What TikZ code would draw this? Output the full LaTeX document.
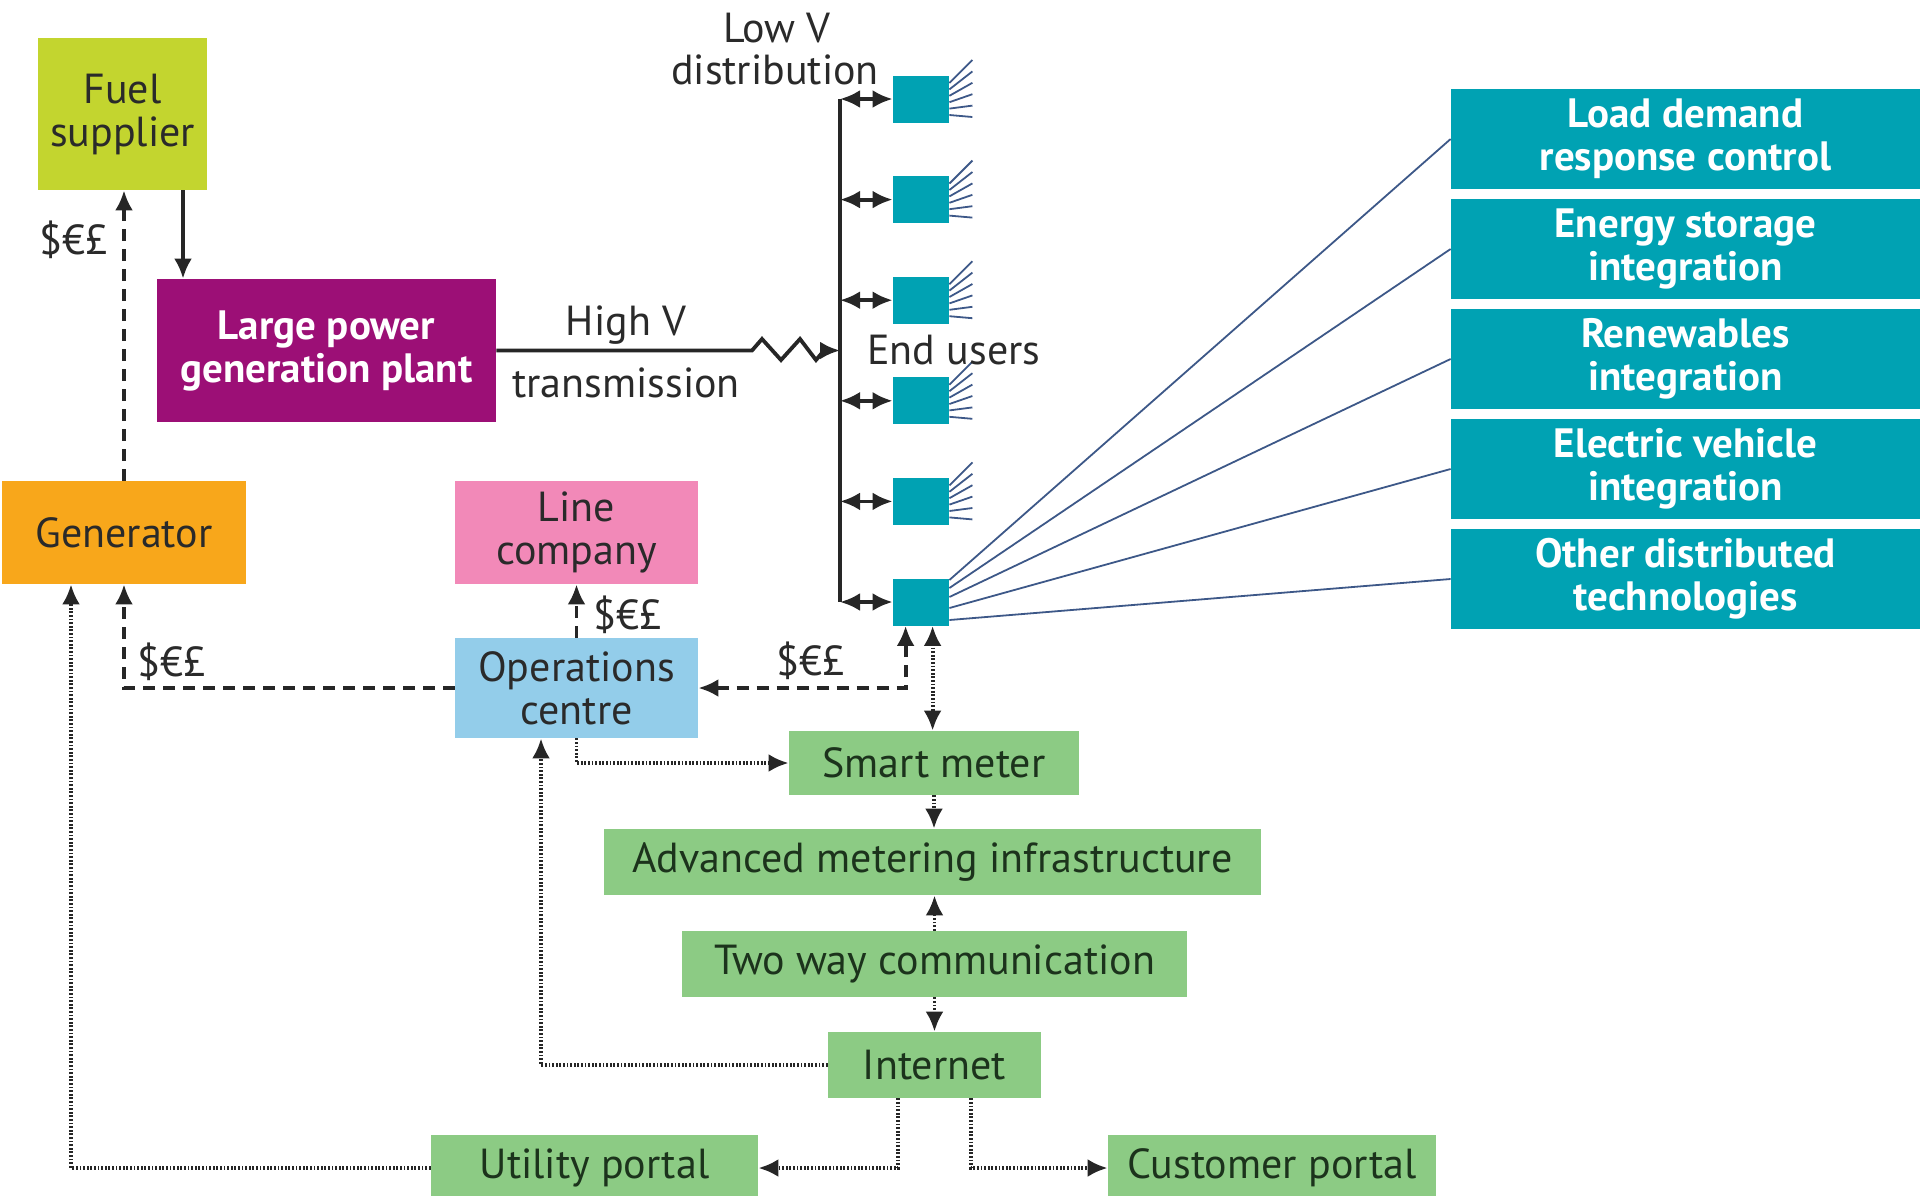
\documentclass[tikz,border=0pt]{standalone}
\usepackage{fontspec}
\setmainfont{PT Sans}
\usetikzlibrary{arrows.meta,calc}
\definecolor{fuelc}{HTML}{C3D52F}
\definecolor{plantc}{HTML}{9C0F76}
\definecolor{genc}{HTML}{F8A71B}
\definecolor{linecc}{HTML}{F289B8}
\definecolor{opsc}{HTML}{93CDEA}
\definecolor{greenc}{HTML}{8CCB84}
\definecolor{tealc}{HTML}{00A2B3}
\definecolor{txtc}{HTML}{2A2A2A}
\definecolor{gtxt}{HTML}{1C331C}
\definecolor{fanc}{HTML}{3D5888}
\begin{document}
\begin{tikzpicture}[x=0.5pt,y=-0.5pt,
  box/.style={draw=none, inner sep=0pt, align=center, text=txtc, font=\fontsize{21}{21.5}\selectfont},
  gbox/.style={box, fill=greenc, text=gtxt, minimum height=33pt},
  rbox/.style={box, fill=tealc, text=white, font=\bfseries\fontsize{20.5}{21.5}\selectfont, minimum width=234.5pt, minimum height=50pt},
  sq/.style={fill=tealc, inner sep=0pt, minimum width=28pt, minimum height=23.5pt},
  tip/.style={-{Latex[length=10pt,width=9pt]}},
  dtip/.style={{Latex[length=10pt,width=9pt]}-{Latex[length=10pt,width=9pt]}},
  solidl/.style={line width=1.9pt, draw=black!85},
  dashl/.style={line width=1.9pt, draw=black!85, dash pattern=on 6pt off 4pt},
  dotl/.style={line width=1.9pt, draw=black!85, dash pattern=on 0.9pt off 0.9pt},
  lbl/.style={text=txtc, font=\fontsize{21}{21.5}\selectfont, inner sep=0pt},
  fanl/.style={draw=fanc, line width=0.9pt},
]
\useasboundingbox (0,0) rectangle (1920,1195);

% boxes
\node[box, fill=fuelc, minimum width=84.5pt, minimum height=76pt] (fuel) at (122.5,114) {Fuel\\supplier};
\node[box, fill=plantc, text=white, font=\bfseries\fontsize{20.5}{21.5}\selectfont, minimum width=169.5pt, minimum height=71.5pt] (plant) at (326.5,350.5) {Large power\\generation plant};
\node[box, fill=genc, minimum width=122pt, minimum height=51.5pt] (gen) at (124,532.5) {Generator};
\node[box, fill=linecc, minimum width=121.5pt, minimum height=51.5pt] (linec) at (576.5,532.5) {Line\\company};
\node[box, fill=opsc, minimum width=121.5pt, minimum height=50pt] (ops) at (576.5,688) {Operations\\centre};
\node[gbox, minimum width=145pt, minimum height=32pt] (sm) at (934,763) {Smart meter};
\node[gbox, minimum width=328.5pt] (ami) at (932.5,862) {Advanced metering infrastructure};
\node[gbox, minimum width=252.5pt] (tw) at (934.5,964) {Two way communication};
\node[gbox, minimum width=106.5pt] (inet) at (934.5,1065) {Internet};
\node[gbox, minimum width=163.5pt] (up) at (594.5,1168) {Utility portal};
\node[gbox, minimum width=164pt] (cp) at (1272,1168) {Customer portal};

\node[rbox] (r1) at (1685.5,139) {Load demand\\response control};
\node[rbox] (r2) at (1685.5,249) {Energy storage\\integration};
\node[rbox] (r3) at (1685.5,359) {Renewables\\integration};
\node[rbox] (r4) at (1685.5,469) {Electric vehicle\\integration};
\node[rbox] (r5) at (1685.5,579) {Other distributed\\technologies};

\foreach \i/\yy in {1/99,2/199.6,3/300.2,4/400.8,5/501.4,6/602}
  \node[sq] (s\i) at (921,\yy) {};

% bus
\coordinate (bustop) at (840,99);
\coordinate (busbot) at (840,602);
\draw[solidl] (bustop) -- (busbot);
\foreach \i in {1,...,6}
  \draw[solidl, dtip] (s\i.west -| bustop) -- (s\i.west);

% fans
\foreach \i in {1,...,5}
  \foreach \j in {0,...,5}
    \draw[fanl] ($(s\i.east)+(0,-16+6.4*\j)$) -- ($(s\i.east)+(23,-39+11.4*\j)$);
\foreach \i/\dy in {1/-22,2/-14,3/-5,4/6,5/18}
  \draw[fanl] ($(s6.east)+(0,\dy)$) -- (r\i.west);

% high voltage line
\draw[solidl] (plant.east) -- (752,350.5) -- (762,339) -- (781,360) -- (800,339) -- (816,360) -- (824,350.5) coordinate (zend);
\draw[solidl, tip] (zend) -- (zend -| bustop);

% fuel to plant
\coordinate (fa) at ($(fuel.south)+(60.5,0)$);
\draw[solidl, tip] (fa) -- (fa |- plant.north);

% money flows
\draw[dashl, tip] (gen.north) -- (gen.north |- fuel.south);
\draw[dashl, tip] (ops.west) -| (gen.south);
\draw[dashl, tip] (ops.north) -- (linec.south);
\coordinate (s6a) at ($(s6.south west)+(13,0)$);
\draw[dashl, dtip] (ops.east) -| (s6a);

% communication
\coordinate (s6b) at ($(s6.south west)+(40,0)$);
\draw[dotl, dtip] (s6b) -- (s6b |- sm.north);
\draw[dotl, tip] (sm.south) -- (sm.south |- ami.north);
\draw[dotl, tip] (tw.north) -- (tw.north |- ami.south);
\draw[dotl, tip] (tw.south) -- (inet.north);
\draw[dotl, tip] (ops.south) |- (sm.west);
\coordinate (opsb) at ($(ops.south)+(-35.5,0)$);
\draw[dotl, tip] (inet.west) -| (opsb);
\coordinate (ia) at ($(inet.south)+(-36.5,0)$);
\coordinate (ib) at ($(inet.south)+(36.5,0)$);
\draw[dotl, tip] (ia) |- (up.east);
\draw[dotl, tip] (ib) |- (cp.west);
\coordinate (gb) at ($(gen.south)+(-53,0)$);
\draw[dotl, tip] (up.west) -| (gb);

% labels
\node[lbl] (m1) at (74,240) {\$€£};
\node[lbl] (m2) at (172,662) {\$€£};
\node[lbl] (m3) at (628,615) {\$€£};
\node[lbl] (m4) at (811,661) {\$€£};
\node[lbl] (hv) at (626,325) {High V};
\node[lbl] (tr) at (626,383) {transmission};
\node[lbl] (lv) at (777,28) {Low V};
\node[lbl] (dist) at (775,70) {distribution};
\node[lbl, anchor=west] (eu) at (867,350) {End users};
\end{tikzpicture}
\end{document}
